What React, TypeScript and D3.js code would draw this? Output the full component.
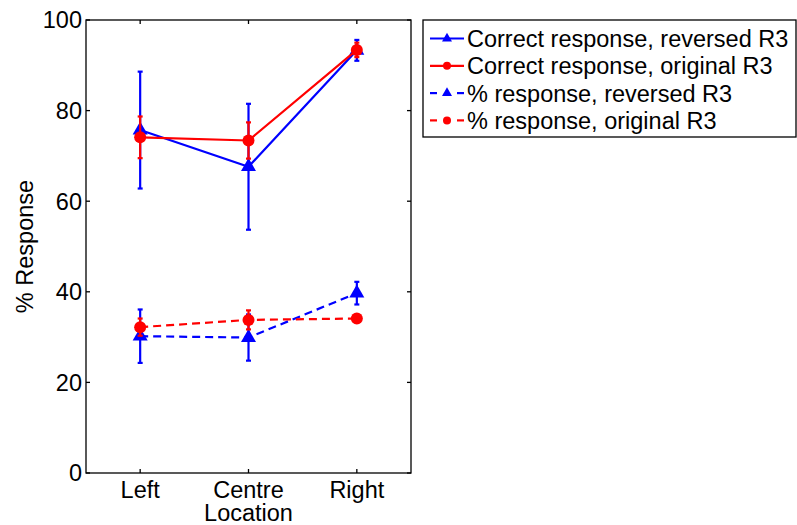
import React from "react";
import * as d3 from "d3";

const categories = ["Left", "Centre", "Right"];
const seriesNames = [
  "Correct response, reversed R3",
  "Correct response, original R3",
  "% response, reversed R3",
  "% response, original R3",
];
const correctReversed = [75.7, 67.6, 93.3];
const correctReversedErr = [12.9, 13.9, 2.3];
const correctOriginal = [74.1, 73.4, 93.4];
const correctOriginalErr = [4.6, 4.0, 1.6];
const pctReversed = [30.2, 29.9, 39.7];
const pctReversedErr = [5.9, 5.1, 2.5];
const pctOriginal = [32.2, 33.8, 34.1];
const pctOriginalErr = [1.9, 2.1, 0.6];
const yTicks = [0, 20, 40, 60, 80, 100];

const colors = ["#0000ff", "#ff0000", "#0000ff", "#ff0000"];
const markers = ["triangle", "circle", "triangle", "circle"];
const dashed = [false, false, true, true];
const values = [correctReversed, correctOriginal, pctReversed, pctOriginal];
const errors = [correctReversedErr, correctOriginalErr, pctReversedErr, pctOriginalErr];

const FONT = "'Liberation Sans', Arial, sans-serif";

function Marker({ type, x, y, color, size }: { type: string; x: number; y: number; color: string; size: number }) {
  if (type === "circle") {
    return <circle cx={x} cy={y} r={size / 2} fill={color} />;
  }
  const area = (Math.sqrt(3) / 4) * size * size;
  const sym = d3.symbol(d3.symbolTriangle, area)();
  return <path d={sym || ""} transform={`translate(${x},${y})`} fill={color} />;
}

export default function App() {
  const W = 797, H = 525;
  const left = 86, right = 411, top = 20, bottom = 473;
  const x = d3.scaleLinear().domain([0.5, 3.5]).range([left, right]);
  const y = d3.scaleLinear().domain([0, 100]).range([bottom, top]);
  const tick = 4;
  const fs = 23.5;

  return (
    <svg width={W} height={H} style={{ position: "absolute", left: 0, top: 0, background: "#fff" }} fontFamily={FONT}>
      <rect x={0} y={0} width={W} height={H} fill="#fff" />
      {values.map((vals, s) => {
        const line = d3.line<number>().x((_, i) => x(i + 1)).y((d) => y(d));
        return (
          <g key={s}>
            <path d={line(vals) || ""} fill="none" stroke={colors[s]} strokeWidth={2.2}
              strokeDasharray={dashed[s] ? "8,5" : undefined} />
            {vals.map((v, i) => {
              const cx = x(i + 1);
              const e = errors[s][i];
              return (
                <g key={i} stroke={colors[s]} strokeWidth={2.2}>
                  <line x1={cx} x2={cx} y1={y(v - e)} y2={y(v + e)} />
                  <line x1={cx - 2.5} x2={cx + 2.5} y1={y(v - e)} y2={y(v - e)} />
                  <line x1={cx - 2.5} x2={cx + 2.5} y1={y(v + e)} y2={y(v + e)} />
                </g>
              );
            })}
            {vals.map((v, i) => (
              <Marker key={"m" + i} type={markers[s]} x={x(i + 1)} y={y(v)} color={colors[s]}
                size={markers[s] === "circle" ? 12 : 15} />
            ))}
          </g>
        );
      })}
      <rect x={left} y={top} width={right - left} height={bottom - top} fill="none" stroke="#000" strokeWidth={1.3} />
      {yTicks.map((t) => (
        <g key={t}>
          <line x1={left} x2={left + tick} y1={y(t)} y2={y(t)} stroke="#000" strokeWidth={1.3} />
          <line x1={right} x2={right - tick} y1={y(t)} y2={y(t)} stroke="#000" strokeWidth={1.3} />
          <text x={left - 4} y={y(t)} dy="0.36em" textAnchor="end" fontSize={fs}>{t}</text>
        </g>
      ))}
      {categories.map((c, i) => (
        <g key={c}>
          <line x1={x(i + 1)} x2={x(i + 1)} y1={bottom} y2={bottom - tick} stroke="#000" strokeWidth={1.3} />
          <line x1={x(i + 1)} x2={x(i + 1)} y1={top} y2={top + tick} stroke="#000" strokeWidth={1.3} />
          <text x={x(i + 1)} y={498} textAnchor="middle" fontSize={fs}>{c}</text>
        </g>
      ))}
      <text x={x(2)} y={521} textAnchor="middle" fontSize={fs}>Location</text>
      <text transform={`translate(33,${(top + bottom) / 2}) rotate(-90)`} textAnchor="middle" fontSize={fs}>% Response</text>
      <rect x={423} y={20} width={373} height={117} fill="#fff" stroke="#000" strokeWidth={1.3} />
      {seriesNames.map((n, s) => {
        const ly = 38.5 + s * 27.3;
        return (
          <g key={n}>
            {dashed[s] ? (
              <g stroke={colors[s]} strokeWidth={2.2}>
                <line x1={430} x2={437} y1={ly} y2={ly} />
                <line x1={457} x2={464} y1={ly} y2={ly} />
              </g>
            ) : (
              <line x1={430} x2={464} y1={ly} y2={ly} stroke={colors[s]} strokeWidth={2.2} />
            )}
            <Marker type={markers[s]} x={447} y={ly} color={colors[s]} size={markers[s] === "circle" ? 8 : 10} />
            <text x={467} y={ly} dy="0.36em" fontSize={fs}>{n}</text>
          </g>
        );
      })}
    </svg>
  );
}
